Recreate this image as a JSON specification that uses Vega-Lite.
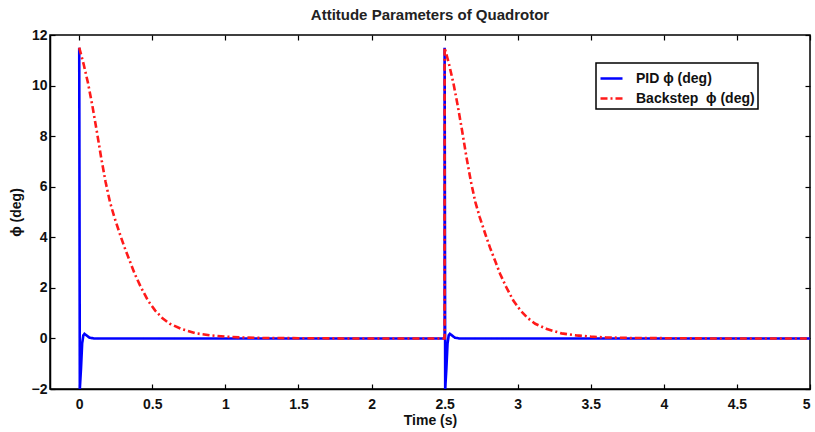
{
  "$schema": "https://vega.github.io/schema/vega-lite/v6.json",
  "width": 760,
  "height": 354,
  "autosize": {"type": "none"},
  "padding": {"left": 50, "top": 35, "right": 5, "bottom": 43},
  "background": "white",
  "title": {
    "text": "Attitude Parameters of Quadrotor",
    "font": "Liberation Sans",
    "fontSize": 15,
    "fontWeight": "bold",
    "color": "#222",
    "offset": 5,
    "anchor": "middle"
  },
  "config": {
    "view": {"stroke": "black", "strokeWidth": 1.5},
    "axis": {
      "grid": false,
      "labelFont": "Liberation Sans",
      "labelFontWeight": "bold",
      "labelFontSize": 14,
      "labelColor": "#111",
      "titleFont": "Liberation Sans",
      "titleFontWeight": "bold",
      "titleFontSize": 14,
      "titleColor": "#111",
      "domainColor": "black",
      "domainWidth": 1.5,
      "tickColor": "black",
      "tickWidth": 1.2
    }
  },
  "data": {
    "values": [
      {"s": "PID ϕ (deg)", "i": 0, "t": 0, "v": 11.5},
      {"s": "PID ϕ (deg)", "i": 1, "t": 0.004, "v": -2},
      {"s": "PID ϕ (deg)", "i": 2, "t": 0.012, "v": -1.2},
      {"s": "PID ϕ (deg)", "i": 3, "t": 0.02, "v": -0.2},
      {"s": "PID ϕ (deg)", "i": 4, "t": 0.028, "v": 0.12},
      {"s": "PID ϕ (deg)", "i": 5, "t": 0.036, "v": 0.18},
      {"s": "PID ϕ (deg)", "i": 6, "t": 0.05, "v": 0.12},
      {"s": "PID ϕ (deg)", "i": 7, "t": 0.07, "v": 0.03},
      {"s": "PID ϕ (deg)", "i": 8, "t": 0.1, "v": 0},
      {"s": "PID ϕ (deg)", "i": 9, "t": 2.5, "v": 0},
      {"s": "PID ϕ (deg)", "i": 10, "t": 2.5, "v": 11.5},
      {"s": "PID ϕ (deg)", "i": 11, "t": 2.504, "v": -2},
      {"s": "PID ϕ (deg)", "i": 12, "t": 2.512, "v": -1.2},
      {"s": "PID ϕ (deg)", "i": 13, "t": 2.52, "v": -0.2},
      {"s": "PID ϕ (deg)", "i": 14, "t": 2.528, "v": 0.12},
      {"s": "PID ϕ (deg)", "i": 15, "t": 2.536, "v": 0.18},
      {"s": "PID ϕ (deg)", "i": 16, "t": 2.55, "v": 0.12},
      {"s": "PID ϕ (deg)", "i": 17, "t": 2.57, "v": 0.03},
      {"s": "PID ϕ (deg)", "i": 18, "t": 2.6, "v": 0},
      {"s": "PID ϕ (deg)", "i": 19, "t": 5, "v": 0},

      {"s": "Backstep\u00a0 ϕ (deg)", "i": 0, "t": 0, "v": 11.5},
      {"s": "Backstep\u00a0 ϕ (deg)", "i": 1, "t": 0.03, "v": 10.85},
      {"s": "Backstep\u00a0 ϕ (deg)", "i": 2, "t": 0.06, "v": 10.1},
      {"s": "Backstep\u00a0 ϕ (deg)", "i": 3, "t": 0.09, "v": 9.2},
      {"s": "Backstep\u00a0 ϕ (deg)", "i": 4, "t": 0.12, "v": 8.2},
      {"s": "Backstep\u00a0 ϕ (deg)", "i": 5, "t": 0.15, "v": 7.15},
      {"s": "Backstep\u00a0 ϕ (deg)", "i": 6, "t": 0.18, "v": 6.2},
      {"s": "Backstep\u00a0 ϕ (deg)", "i": 7, "t": 0.21, "v": 5.4},
      {"s": "Backstep\u00a0 ϕ (deg)", "i": 8, "t": 0.24, "v": 4.8},
      {"s": "Backstep\u00a0 ϕ (deg)", "i": 9, "t": 0.28, "v": 4.1},
      {"s": "Backstep\u00a0 ϕ (deg)", "i": 10, "t": 0.31, "v": 3.6},
      {"s": "Backstep\u00a0 ϕ (deg)", "i": 11, "t": 0.35, "v": 3.0},
      {"s": "Backstep\u00a0 ϕ (deg)", "i": 12, "t": 0.38, "v": 2.55},
      {"s": "Backstep\u00a0 ϕ (deg)", "i": 13, "t": 0.42, "v": 2.05},
      {"s": "Backstep\u00a0 ϕ (deg)", "i": 14, "t": 0.47, "v": 1.5},
      {"s": "Backstep\u00a0 ϕ (deg)", "i": 15, "t": 0.52, "v": 1.1},
      {"s": "Backstep\u00a0 ϕ (deg)", "i": 16, "t": 0.57, "v": 0.8},
      {"s": "Backstep\u00a0 ϕ (deg)", "i": 17, "t": 0.62, "v": 0.58},
      {"s": "Backstep\u00a0 ϕ (deg)", "i": 18, "t": 0.7, "v": 0.37},
      {"s": "Backstep\u00a0 ϕ (deg)", "i": 19, "t": 0.8, "v": 0.2},
      {"s": "Backstep\u00a0 ϕ (deg)", "i": 20, "t": 0.9, "v": 0.12},
      {"s": "Backstep\u00a0 ϕ (deg)", "i": 21, "t": 1.0, "v": 0.07},
      {"s": "Backstep\u00a0 ϕ (deg)", "i": 22, "t": 1.1, "v": 0.04},
      {"s": "Backstep\u00a0 ϕ (deg)", "i": 23, "t": 1.25, "v": 0.02},
      {"s": "Backstep\u00a0 ϕ (deg)", "i": 24, "t": 1.5, "v": 0.01},
      {"s": "Backstep\u00a0 ϕ (deg)", "i": 25, "t": 1.8, "v": 0},
      {"s": "Backstep\u00a0 ϕ (deg)", "i": 26, "t": 2.5, "v": 0},
      {"s": "Backstep\u00a0 ϕ (deg)", "i": 27, "t": 2.5, "v": 11.5},
      {"s": "Backstep\u00a0 ϕ (deg)", "i": 28, "t": 2.53, "v": 10.85},
      {"s": "Backstep\u00a0 ϕ (deg)", "i": 29, "t": 2.56, "v": 10.1},
      {"s": "Backstep\u00a0 ϕ (deg)", "i": 30, "t": 2.59, "v": 9.2},
      {"s": "Backstep\u00a0 ϕ (deg)", "i": 31, "t": 2.62, "v": 8.2},
      {"s": "Backstep\u00a0 ϕ (deg)", "i": 32, "t": 2.65, "v": 7.15},
      {"s": "Backstep\u00a0 ϕ (deg)", "i": 33, "t": 2.68, "v": 6.2},
      {"s": "Backstep\u00a0 ϕ (deg)", "i": 34, "t": 2.71, "v": 5.4},
      {"s": "Backstep\u00a0 ϕ (deg)", "i": 35, "t": 2.74, "v": 4.8},
      {"s": "Backstep\u00a0 ϕ (deg)", "i": 36, "t": 2.78, "v": 4.1},
      {"s": "Backstep\u00a0 ϕ (deg)", "i": 37, "t": 2.81, "v": 3.6},
      {"s": "Backstep\u00a0 ϕ (deg)", "i": 38, "t": 2.85, "v": 3.0},
      {"s": "Backstep\u00a0 ϕ (deg)", "i": 39, "t": 2.88, "v": 2.55},
      {"s": "Backstep\u00a0 ϕ (deg)", "i": 40, "t": 2.92, "v": 2.05},
      {"s": "Backstep\u00a0 ϕ (deg)", "i": 41, "t": 2.97, "v": 1.5},
      {"s": "Backstep\u00a0 ϕ (deg)", "i": 42, "t": 3.02, "v": 1.1},
      {"s": "Backstep\u00a0 ϕ (deg)", "i": 43, "t": 3.07, "v": 0.8},
      {"s": "Backstep\u00a0 ϕ (deg)", "i": 44, "t": 3.12, "v": 0.58},
      {"s": "Backstep\u00a0 ϕ (deg)", "i": 45, "t": 3.2, "v": 0.37},
      {"s": "Backstep\u00a0 ϕ (deg)", "i": 46, "t": 3.3, "v": 0.2},
      {"s": "Backstep\u00a0 ϕ (deg)", "i": 47, "t": 3.4, "v": 0.12},
      {"s": "Backstep\u00a0 ϕ (deg)", "i": 48, "t": 3.5, "v": 0.07},
      {"s": "Backstep\u00a0 ϕ (deg)", "i": 49, "t": 3.6, "v": 0.04},
      {"s": "Backstep\u00a0 ϕ (deg)", "i": 50, "t": 3.75, "v": 0.02},
      {"s": "Backstep\u00a0 ϕ (deg)", "i": 51, "t": 4.0, "v": 0.01},
      {"s": "Backstep\u00a0 ϕ (deg)", "i": 52, "t": 4.3, "v": 0},
      {"s": "Backstep\u00a0 ϕ (deg)", "i": 53, "t": 5, "v": 0}
    ]
  },
  "layer": [
    {
      "mark": {"type": "line", "strokeWidth": 2.6, "clip": true},
      "encoding": {
        "x": {
          "field": "t", "type": "quantitative",
          "scale": {"domain": [-0.2, 5], "nice": false, "zero": false},
          "axis": {
            "title": "Time (s)",
            "values": [0, 0.5, 1, 1.5, 2, 2.5, 3, 3.5, 4, 4.5, 5],
            "format": "~g",
            "tickSize": -5,
            "labelPadding": 13,
            "titlePadding": 2
          }
        },
        "y": {
          "field": "v", "type": "quantitative",
          "scale": {"domain": [-2, 12], "nice": false, "zero": false},
          "axis": {
            "title": "ϕ (deg)",
            "values": [-2, 0, 2, 4, 6, 8, 10, 12],
            "format": "~g",
            "tickSize": -5,
            "labelPadding": 8,
            "titlePadding": 8
          }
        },
        "order": {"field": "i", "type": "quantitative"},
        "color": {
          "field": "s", "type": "nominal",
          "scale": {"domain": ["PID ϕ (deg)", "Backstep\u00a0 ϕ (deg)"], "range": ["#0000ff", "#ff1a1a"]},
          "legend": {
            "title": null,
            "orient": "none",
            "legendX": 546,
            "legendY": 28,
            "fillColor": "white",
            "strokeColor": "black",
            "padding": 3,
            "symbolType": "stroke",
            "symbolSize": 484,
            "symbolStrokeWidth": 2.6,
            "labelFont": "Liberation Sans",
            "labelFontWeight": "bold",
            "labelFontSize": 14,
            "labelColor": "#111",
            "labelOffset": 12,
            "rowPadding": 0,
            "labelLimit": 300,
            "encode": {"legend": {"update": {"strokeWidth": {"value": 1.5}}}}
          }
        },
        "strokeDash": {
          "field": "s", "type": "nominal",
          "scale": {"domain": ["PID ϕ (deg)", "Backstep\u00a0 ϕ (deg)"], "range": [[1, 0], [7, 3, 2, 3]]},
          "legend": null
        }
      }
    },
    {
      "mark": {"type": "point", "opacity": 0},
      "encoding": {
        "x": {
          "field": "t", "type": "quantitative",
          "axis": {
            "orient": "top", "title": null, "labels": false, "domain": false,
            "values": [0, 0.5, 1, 1.5, 2, 2.5, 3, 3.5, 4, 4.5, 5],
            "tickSize": -5
          }
        },
        "y": {
          "field": "v", "type": "quantitative",
          "axis": {
            "orient": "right", "title": null, "labels": false, "domain": false,
            "values": [-2, 0, 2, 4, 6, 8, 10, 12],
            "tickSize": -5
          }
        }
      }
    }
  ],
  "resolve": {"axis": {"x": "independent", "y": "independent"}}
}
